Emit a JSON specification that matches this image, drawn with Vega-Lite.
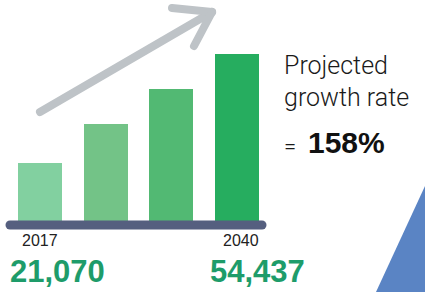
{
  "$schema": "https://vega.github.io/schema/vega-lite/v6.json",
  "width": 425,
  "height": 292,
  "autosize": {"type": "fit", "contains": "padding"},
  "padding": 0,
  "background": "white",
  "config": {"view": {"stroke": null}},
  "datasets": {
    "bars": [
      {"x0": 18, "x1": 62, "top": 163, "color": "#82d0a0"},
      {"x0": 84, "x1": 128, "top": 124, "color": "#73c387"},
      {"x0": 149, "x1": 193, "top": 89, "color": "#52b973"},
      {"x0": 215, "x1": 259, "top": 54, "color": "#26ad5f"}
    ],
    "arrow": [
      {"xa": 40, "ya": 112, "xb": 212, "yb": 12},
      {"xa": 172, "ya": 8, "xb": 212, "yb": 12},
      {"xa": 194, "ya": 46, "xb": 212, "yb": 12}
    ],
    "triangle": [
      {"x": 376, "y": 292},
      {"x": 425, "y": 186}
    ],
    "labels": [
      {"x": 22, "y": 246, "t": "2017"},
      {"x": 223, "y": 246, "t": "2040"}
    ],
    "totals": [
      {"x": 10, "y": 282, "t": "21,070"},
      {"x": 210, "y": 282, "t": "54,437"}
    ],
    "caption": [
      {"x": 284, "y": 74, "t": "Projected"},
      {"x": 284, "y": 106, "t": "growth rate"}
    ]
  },
  "layer": [
    {
      "data": {"name": "triangle"},
      "mark": {"type": "area", "color": "#5a84c4", "orient": "vertical"},
      "encoding": {
        "x": {"field": "x", "type": "quantitative", "scale": {"domain": [0, 425], "nice": false, "zero": false}, "axis": null},
        "y": {"field": "y", "type": "quantitative", "scale": {"domain": [0, 292], "reverse": true, "nice": false, "zero": false}, "axis": null},
        "y2": {"datum": 292}
      }
    },
    {
      "data": {"name": "bars"},
      "mark": {"type": "rect"},
      "encoding": {
        "x": {"field": "x0", "type": "quantitative"},
        "x2": {"field": "x1"},
        "y": {"field": "top", "type": "quantitative"},
        "y2": {"datum": 221},
        "color": {"field": "color", "type": "nominal", "scale": null, "legend": null}
      }
    },
    {
      "data": {"values": [{"xa": 10, "xb": 262, "y": 225}]},
      "mark": {"type": "rule", "color": "#555f7f", "strokeWidth": 9, "strokeCap": "round"},
      "encoding": {
        "x": {"field": "xa", "type": "quantitative"},
        "x2": {"field": "xb"},
        "y": {"field": "y", "type": "quantitative"}
      }
    },
    {
      "data": {"name": "arrow"},
      "mark": {"type": "rule", "color": "#bec3c7", "strokeWidth": 8, "strokeCap": "round"},
      "encoding": {
        "x": {"field": "xa", "type": "quantitative"},
        "x2": {"field": "xb"},
        "y": {"field": "ya", "type": "quantitative"},
        "y2": {"field": "yb"}
      }
    },
    {
      "data": {"name": "labels"},
      "mark": {"type": "text", "align": "left", "baseline": "alphabetic", "font": "Liberation Sans", "fontSize": 16, "color": "#222222"},
      "encoding": {
        "x": {"field": "x", "type": "quantitative"},
        "y": {"field": "y", "type": "quantitative"},
        "text": {"field": "t"}
      }
    },
    {
      "data": {"name": "totals"},
      "mark": {"type": "text", "align": "left", "baseline": "alphabetic", "font": "Liberation Sans", "fontWeight": "bold", "fontSize": 31, "color": "#1e9c6a"},
      "encoding": {
        "x": {"field": "x", "type": "quantitative"},
        "y": {"field": "y", "type": "quantitative"},
        "text": {"field": "t"}
      }
    },
    {
      "data": {"name": "caption"},
      "mark": {"type": "text", "align": "left", "baseline": "alphabetic", "font": "Roboto", "fontWeight": 300, "fontSize": 25, "color": "#1a1a1a"},
      "encoding": {
        "x": {"field": "x", "type": "quantitative"},
        "y": {"field": "y", "type": "quantitative"},
        "text": {"field": "t"}
      }
    },
    {
      "data": {"values": [{"x": 284, "y": 154, "t": "="}]},
      "mark": {"type": "text", "align": "left", "baseline": "alphabetic", "font": "Roboto", "fontWeight": 300, "fontSize": 22, "color": "#1a1a1a"},
      "encoding": {
        "x": {"field": "x", "type": "quantitative"},
        "y": {"field": "y", "type": "quantitative"},
        "text": {"field": "t"}
      }
    },
    {
      "data": {"values": [{"x": 308, "y": 153, "t": "158%"}]},
      "mark": {"type": "text", "align": "left", "baseline": "alphabetic", "font": "Liberation Sans", "fontWeight": "bold", "fontSize": 30, "color": "#111111"},
      "encoding": {
        "x": {"field": "x", "type": "quantitative"},
        "y": {"field": "y", "type": "quantitative"},
        "text": {"field": "t"}
      }
    }
  ]
}
